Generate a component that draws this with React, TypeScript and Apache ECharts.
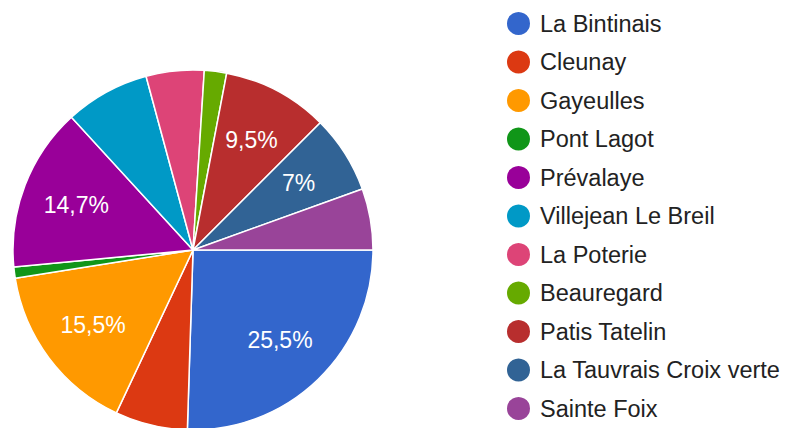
import React, { useEffect, useRef } from "react";
import * as echarts from "echarts";

const categories = [
  "La Bintinais",
  "Cleunay",
  "Gayeulles",
  "Pont Lagot",
  "Prévalaye",
  "Villejean Le Breil",
  "La Poterie",
  "Beauregard",
  "Patis Tatelin",
  "La Tauvrais Croix verte",
  "Sainte Foix",
];
const values = [25.5, 6.5, 15.5, 1, 14.7, 7.6, 5.2, 2, 9.5, 7, 5.5];
const labeled = ["La Bintinais", "Gayeulles", "Prévalaye", "Patis Tatelin", "La Tauvrais Croix verte"];
const colors = [
  "#3366cc",
  "#dc3912",
  "#ff9900",
  "#109618",
  "#990099",
  "#0099c6",
  "#dd4477",
  "#66aa00",
  "#b82e2e",
  "#316395",
  "#994499",
];

const FONT = 'Arial, "Liberation Sans", sans-serif';

export default function App() {
  const ref = useRef<HTMLDivElement>(null);
  useEffect(() => {
    if (!ref.current) return;
    const chart = echarts.init(ref.current, undefined, { renderer: "svg" });
    const mainData = categories.map((name, i) => ({
      name,
      value: values[i],
      itemStyle: { color: colors[i] },
    }));
    const labelData = categories.map((name, i) => ({
      name,
      value: values[i],
      itemStyle: { color: "rgba(0,0,0,0)" },
      label: { show: labeled.includes(name) },
    }));
    chart.setOption({
      animation: false,
      color: colors,
      legend: {
        orient: "vertical",
        left: 505,
        top: 10,
        padding: 0,
        height: 428,
        itemWidth: 25,
        itemHeight: 25,
        itemGap: 11.5,
        icon: "circle",
        data: categories,
        textStyle: {
          fontFamily: FONT,
          fontSize: 23.5,
          lineHeight: 24,
          color: "#222222",
          padding: [0, 0, 0, 4],
        },
        selectedMode: false,
      },
      series: [
        {
          type: "pie",
          center: [193, 250],
          radius: [0, 180],
          startAngle: 0,
          clockwise: true,
          label: { show: false },
          labelLine: { show: false },
          itemStyle: { borderColor: "#ffffff", borderWidth: 1.5 },
          emphasis: { disabled: true },
          data: mainData,
        },
        {
          type: "pie",
          center: [193, 250],
          radius: [0, 244],
          startAngle: 0,
          clockwise: true,
          silent: true,
          labelLine: { show: false },
          label: {
            show: false,
            position: "inside",
            fontFamily: FONT,
            fontSize: 23,
            color: "#ffffff",
            formatter: (p: any) => String(p.value).replace(".", ",") + "%",
          },
          emphasis: { disabled: true },
          data: labelData,
        },
      ],
    });
    return () => chart.dispose();
  }, []);
  return (
    <div
      ref={ref}
      style={{ position: "fixed", left: 0, top: 0, width: 788, height: 428, background: "#ffffff" }}
    />
  );
}
